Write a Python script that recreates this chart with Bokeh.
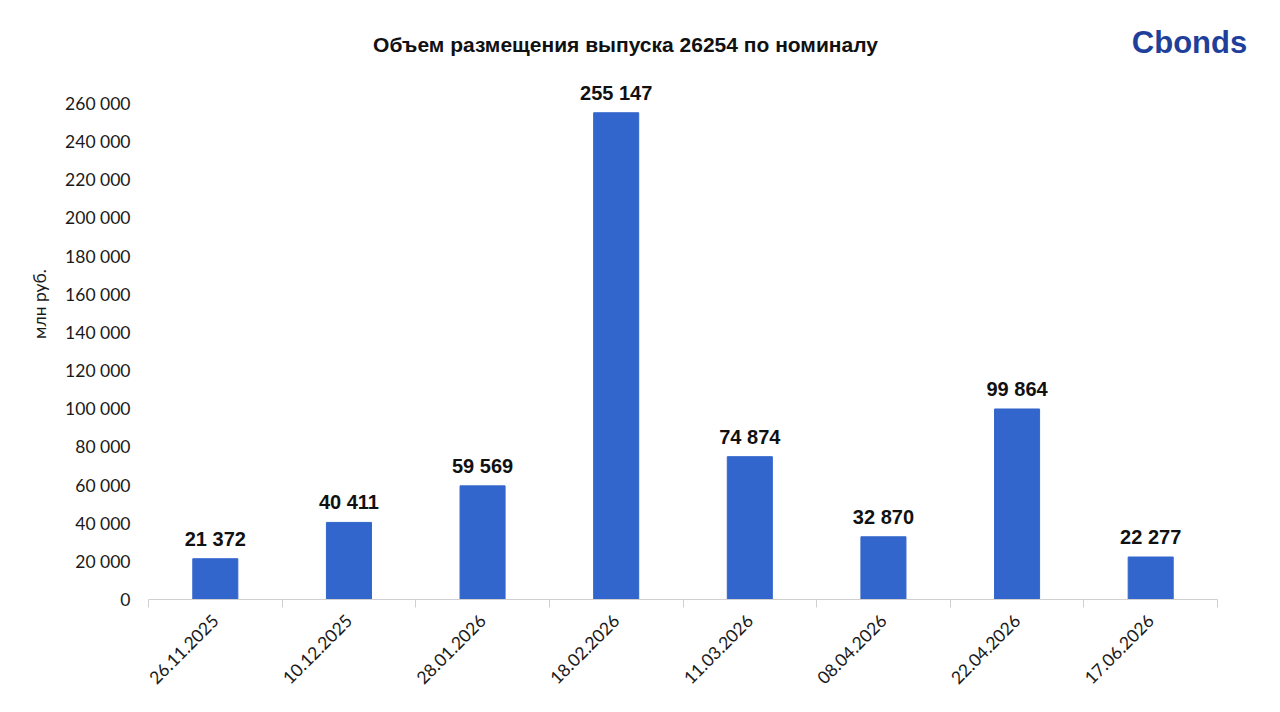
from math import pi
from bokeh.plotting import figure
from bokeh.models import Range1d, FixedTicker, Label, ColumnDataSource
from bokeh.core.properties import value
from bokeh.embed import file_html
from bokeh.resources import INLINE

dates = ["26.11.2025", "10.12.2025", "28.01.2026", "18.02.2026",
         "11.03.2026", "08.04.2026", "22.04.2026", "17.06.2026"]
volumes = [21372, 40411, 59569, 255147, 74874, 32870, 99864, 22277]
y_ticks = [0, 20000, 40000, 60000, 80000, 100000, 120000, 140000,
           160000, 180000, 200000, 220000, 240000, 260000]
y_tick_labels = ["0", "20 000", "40 000", "60 000", "80 000", "100 000", "120 000",
                 "140 000", "160 000", "180 000", "200 000", "220 000", "240 000", "260 000"]
title_text = "Объем размещения выпуска 26254 по номиналу"
y_label = "млн руб."
logo_text = "Cbonds"

xs = list(range(len(dates)))
labels = [f"{v:,}".replace(",", " ") for v in volumes]
src = ColumnDataSource(dict(x=xs, top=volumes, lab=labels))

W, H = 1264, 696
# page layout (pixels)
frame_left, frame_bottom = 148, 599
axis_right = 1217
px_per_unit_y = 496 / 260000
px_per_cat = (axis_right - frame_left) / len(dates)
frame_top, frame_right = 8, 1262
y_end = (frame_bottom - frame_top) / px_per_unit_y
x_end = -0.5 + (frame_right - frame_left) / px_per_cat

p = figure(width=W, height=H, output_backend="svg", toolbar_location=None,
           x_range=Range1d(-0.5, x_end), y_range=Range1d(0, y_end),
           min_border_left=frame_left, min_border_right=W - frame_right,
           min_border_top=frame_top, min_border_bottom=H - frame_bottom,
           outline_line_color=None,
           background_fill_color="white", border_fill_color="white")

p.vbar(x="x", top="top", width=0.337, source=src, color="#3366CC")
p.text(x="x", y="top", text="lab", source=src, text_align="center",
       text_baseline="alphabetic", y_offset=-20,
       text_font=value("Liberation Sans"), text_font_style="bold",
       text_font_size="20px", text_color="#111111")

p.xgrid.visible = False
p.ygrid.visible = False

xa = p.xaxis[0]
xa.bounds = (-0.5, len(dates) - 0.5)
xa.ticker = FixedTicker(ticks=xs, minor_ticks=[i - 0.5 for i in range(len(dates) + 1)])
xa.major_label_overrides = {i: d for i, d in enumerate(dates)}
xa.major_label_orientation = pi / 4
xa.major_tick_line_color = None
xa.minor_tick_line_color = "#D0D0D0"
xa.minor_tick_out = 8
xa.minor_tick_in = 0
xa.axis_line_color = "#D0D0D0"
xa.major_label_text_font = "Lato"
xa.major_label_text_font_size = "17.5px"
xa.major_label_text_color = "#1a1a1a"
xa.major_label_standoff = 10

ya = p.yaxis[0]
ya.ticker = FixedTicker(ticks=y_ticks)
ya.major_label_overrides = {t: l for t, l in zip(y_ticks, y_tick_labels)}
ya.axis_line_color = None
ya.major_tick_line_color = None
ya.minor_tick_line_color = None
ya.major_label_text_font = "Lato"
ya.major_label_text_font_size = "17.5px"
ya.major_label_text_color = "#1a1a1a"
ya.major_label_standoff = 12
ya.axis_label = y_label
ya.axis_label_text_font = "Lato"
ya.axis_label_text_font_size = "17.5px"
ya.axis_label_text_font_style = "normal"
ya.axis_label_text_color = "#1a1a1a"
ya.axis_label_standoff = 12

# title & logo (screen units relative to the frame's bottom-left corner)
p.add_layout(Label(x=625 - frame_left, y=frame_bottom - 44,
                   x_units="screen", y_units="screen", text=title_text,
                   text_align="center", text_baseline="middle",
                   text_font="Liberation Sans", text_font_style="bold",
                   text_font_size="21px", text_color="#111111"))
p.add_layout(Label(x=1189 - frame_left, y=frame_bottom - 42,
                   x_units="screen", y_units="screen", text=logo_text,
                   text_align="center", text_baseline="middle",
                   text_font="Liberation Sans", text_font_style="bold",
                   text_font_size="31px", text_color="#1F3F9A"))

open("out.html", "w").write(file_html(p, INLINE))
